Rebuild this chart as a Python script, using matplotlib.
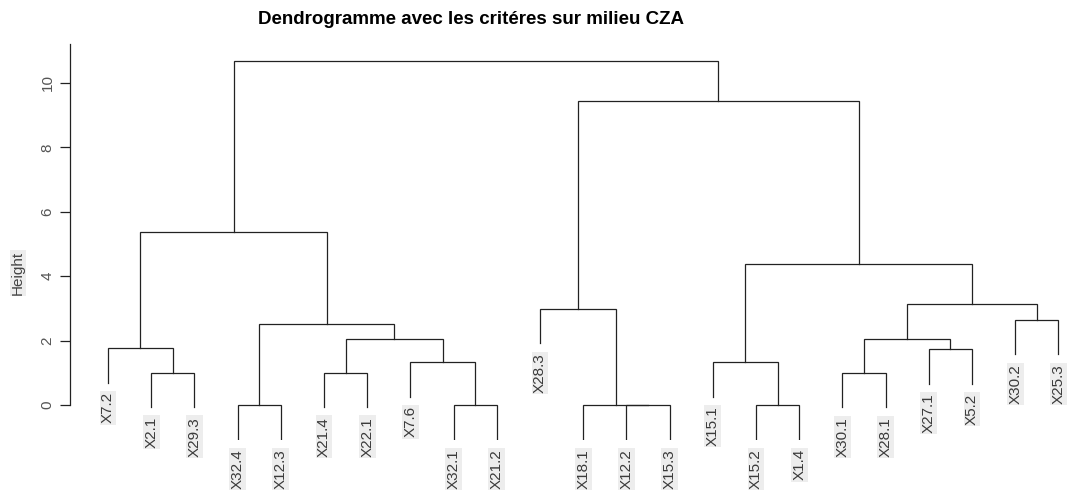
import numpy as np
import matplotlib
matplotlib.use("Agg")
from matplotlib import pyplot as plt

plt.rcParams['font.family'] = ['Liberation Sans', 'DejaVu Sans']

# leaf labels, in plotting order
labels = ["X7.2", "X2.1", "X29.3", "X32.4", "X12.3", "X21.4", "X22.1", "X7.6",
          "X32.1", "X21.2", "X28.3", "X18.1", "X12.2", "X15.3", "X15.1", "X15.2",
          "X1.4", "X30.1", "X28.1", "X27.1", "X5.2", "X30.2", "X25.3"]

# merges, R hclust style: negative = leaf number (1-based), positive = earlier merge step
merge_a = [-4, -9, -13, -12, -16, -2, -6, -18, -8, -20, -22, -1, 7, -11, 8, 1,
           -15, 15, 12, 17, 14, 19]
merge_b = [-5, -10, -14, 3, -17, -3, -7, -19, 2, -21, -23, 6, 9, 4, 10, 13,
           5, 11, 16, 18, 20, 21]
merge_h = [0.0, 0.0, 0.0, 0.0, 0.0, 1.00, 1.00, 0.99, 1.33, 1.73, 2.64, 1.76,
           2.05, 2.98, 2.05, 2.51, 1.33, 3.14, 5.36, 4.38, 9.45, 10.67]

W, H = 1078, 490
fig = plt.figure(figsize=(W / 100, H / 100), dpi=100)

# axes placement (pixels): leaf 1 at x=108, 43.2 px per leaf; y=0 at 405, 32.2 px/unit
px_x, px_y = 43.2, 32.2
x_left = 70
xlim = (0.12, 0.12 + (W - x_left) / px_x)
ylim = (-1.1, 11.3)
bottom_px = 405 + (0 - ylim[0]) * px_y
top_px = 405 - ylim[1] * px_y
ax = fig.add_axes([x_left / W, (H - bottom_px) / H, (W - x_left) / W, (bottom_px - top_px) / H])
ax.set_xlim(*xlim)
ax.set_ylim(*ylim)

hang = 0.1 * max(merge_h)
lc = '#222222'
lw = 0.9

node_x = {}
node_h = {}


def child_pos(c, h):
    if c < 0:
        return float(-c), h - hang, True
    return node_x[c], node_h[c], False


for i, (a, b, h) in enumerate(zip(merge_a, merge_b, merge_h), start=1):
    xa, ya, la = child_pos(a, h)
    xb, yb, lb = child_pos(b, h)
    ax.plot([xa, xa, xb, xb], [ya, h, h, yb], color=lc, lw=lw, solid_joinstyle='miter')
    for c, xc, yc, leaf in ((a, xa, ya, la), (b, xb, yb, lb)):
        if leaf:
            ax.text(xc, yc - 0.3, labels[-c - 1], rotation=90, ha='center', va='top',
                    fontsize=11, color='#3a3a3a',
                    bbox=dict(facecolor='#ededed', edgecolor='none', pad=1.0))
    node_x[i] = (xa + xb) / 2
    node_h[i] = h

for s in ['top', 'right', 'bottom']:
    ax.spines[s].set_visible(False)
ax.spines['left'].set_bounds(0, 11.2)
ax.spines['left'].set_color('#222222')
ax.spines['left'].set_linewidth(0.9)
ax.set_xticks([])
ax.set_yticks([0, 2, 4, 6, 8, 10])
ax.set_yticklabels(['0', '2', '4', '6', '8', '10'], rotation=90, va='center',
                   fontsize=11, color='#555555')
ax.tick_params(axis='y', length=7, width=0.9, color='#222222', pad=4)
ax.patch.set_visible(False)

fig.text(18 / W, 1 - 273 / H, "Height", rotation=90, ha='center', va='center',
         fontsize=11, color='#444444',
         bbox=dict(facecolor='#ededed', edgecolor='none', pad=1.0))
fig.text(471 / W, 1 - 20 / H, "Dendrogramme avec les critéres sur milieu CZA",
         ha='center', va='center', fontsize=13.5, fontweight='bold', color='black')

fig.savefig("out.png", dpi=100)
